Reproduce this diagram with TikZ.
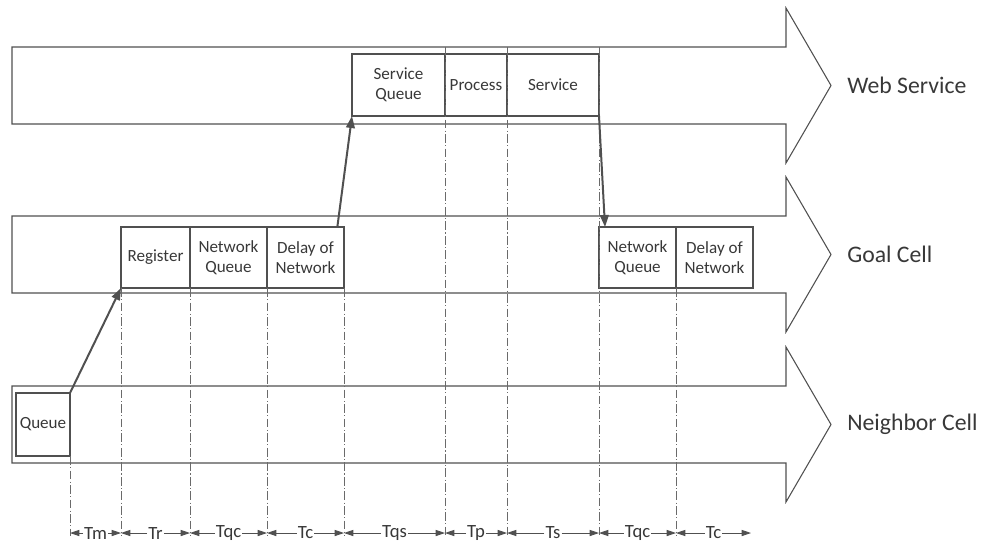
\documentclass[tikz,border=0pt]{standalone}
\usepackage{fontspec}
\setmainfont{Carlito}
\usepackage{tikz}
\usetikzlibrary{positioning, arrows.meta}
\definecolor{linea}{HTML}{505050}
\definecolor{testo}{HTML}{383838}

\begin{document}
\begin{tikzpicture}[
        x=0.75pt, y=-0.75pt,
        % frecce grandi delle tre righe
        corpo/.style={draw=linea, line width=0.8pt, line join=miter},
        % rettangoli interni
        box/.style={
            draw=linea,
            text=testo,
            align=center,
            line width=0.8pt,
            outer sep=0pt,
            inner sep=1pt,
            font=\fontsize{12.8}{15}\selectfont
        },
        etichetta/.style={text=testo, anchor=west, inner sep=0pt, font=\fontsize{17.8}{21}\selectfont},
        % linee tratto-punto verticali
        guida/.style={draw=linea!85, line width=0.6pt, dash pattern=on 6.5pt off 1.8pt on 0.8pt off 1.8pt},
        flusso/.style={draw=linea, line width=1.5pt, -{Triangle[length=9pt,width=6.5pt]}},
        tlab/.style={fill=white, text=testo, inner sep=0.6pt, font=\fontsize{14}{16}\selectfont},
        quota/.style={draw=linea, line width=0.7pt, -{Triangle[length=7pt,width=4.6pt]}},
    ]

    \useasboundingbox (0,0) rectangle (981,544);

    % frecce di sfondo
    \draw[corpo] (12,47) -- (786,47) -- (786,8) -- (831,85.5) -- (786,163) -- (786,124) -- (12,124) -- cycle;
    \draw[corpo] (12,216) -- (786,216) -- (786,177) -- (831,254.5) -- (786,332) -- (786,293) -- (12,293) -- cycle;
    \draw[corpo] (12,386) -- (786,386) -- (786,347) -- (831,424.5) -- (786,502) -- (786,463) -- (12,463) -- cycle;
    \coordinate (webtop) at (12,47);

    \node[etichetta] (weblab) at (847,85.5) {Web Service};
    \node[etichetta] (goallab) at (847,254.5) {Goal Cell};
    \node[etichetta] (nbrlab) at (847,424.5) {Neighbor Cell};

    % Web Service
    \node[box, minimum width=69.75pt, minimum height=46.5pt, anchor=north west] (sq) at (352,54) {Service\\ Queue};
    \node[box, minimum width=46.5pt, minimum height=46.5pt, right=0pt of sq] (proc) {Process};
    \node[box, minimum width=69pt, minimum height=46.5pt, right=0pt of proc] (svc) {Service};

    % Goal Cell
    \node[box, minimum width=51.75pt, minimum height=45.75pt, anchor=north west] (reg) at (121,227) {Register};
    \node[box, minimum width=57.75pt, minimum height=45.75pt, right=0pt of reg] (nq) {Network\\ Queue};
    \node[box, minimum width=57.75pt, minimum height=45.75pt, right=0pt of nq] (dn) {Delay of\\ Network};
    \node[box, minimum width=57.75pt, minimum height=45.75pt, anchor=north west] (nqb) at (599,227) {Network\\ Queue};
    \node[box, minimum width=57.75pt, minimum height=45.75pt, right=0pt of nqb] (dnb) {Delay of\\ Network};

    % Neighbor Cell
    \node[box, minimum width=40.5pt, minimum height=47.25pt, anchor=north west] (queue) at (16,393) {Queue};

    % punti in basso
    \coordinate (g1) at (70,533);
    \coordinate (g2) at (121,533);
    \coordinate (g3) at (190,533);
    \coordinate (g4) at (267,533);
    \coordinate (g5) at (344,533);
    \coordinate (g6) at (445,533);
    \coordinate (g7) at (507,533);
    \coordinate (g8) at (599,533);
    \coordinate (g9) at (676,533);
    \coordinate (g10) at (751,533);

    \draw[guida] (queue.south east) -- ([yshift=-2pt]queue.south east |- g1);
    \draw[guida] (reg.south west) -- ([yshift=-2pt]reg.south west |- g2);
    \draw[guida] (reg.south east) -- ([yshift=-2pt]reg.south east |- g3);
    \draw[guida] (nq.south east) -- ([yshift=-2pt]nq.south east |- g4);
    \draw[guida] (dn.south east) -- ([yshift=-2pt]dn.south east |- g5);
    \draw[guida] (sq.north east |- webtop) -- ([yshift=-2pt]sq.north east |- g6);
    \draw[guida] (proc.north east |- webtop) -- ([yshift=-2pt]proc.north east |- g7);
    \draw[guida] (svc.north east |- webtop) -- ([yshift=-2pt]svc.north east |- g8);
    \draw[guida] (nqb.south east) -- ([yshift=-2pt]nqb.south east |- g9);

    % frecce tra le righe
    \draw[flusso] (queue.north east) -- (reg.south west);
    \draw[flusso] ([xshift=-5pt]dn.north east) -- (sq.south west);
    \draw[flusso] (svc.south east) -- ([xshift=4.5pt]nqb.north west);

    % intervalli di tempo
    \node[tlab] (tm) at (95.5,533) {Tm};
    \draw[quota] (tm) -- (g1);
    \draw[quota] (tm) -- (g2);
    \node[tlab] (tr) at (155.5,533) {Tr};
    \draw[quota] (tr) -- (g2);
    \draw[quota] (tr) -- (g3);
    \node[tlab] (tqc) at (228.5,533) {Tqc};
    \draw[quota] (tqc) -- (g3);
    \draw[quota] (tqc) -- (g4);
    \node[tlab] (tc) at (305.5,533) {Tc};
    \draw[quota] (tc) -- (g4);
    \draw[quota] (tc) -- (g5);
    \node[tlab] (tqs) at (394.5,533) {Tqs};
    \draw[quota] (tqs) -- (g5);
    \draw[quota] (tqs) -- (g6);
    \node[tlab] (tp) at (476,533) {Tp};
    \draw[quota] (tp) -- (g6);
    \draw[quota] (tp) -- (g7);
    \node[tlab] (ts) at (553,533) {Ts};
    \draw[quota] (ts) -- (g7);
    \draw[quota] (ts) -- (g8);
    \node[tlab] (tqcb) at (637.5,533) {Tqc};
    \draw[quota] (tqcb) -- (g8);
    \draw[quota] (tqcb) -- (g9);
    \node[tlab] (tcb) at (713.5,533) {Tc};
    \draw[quota] (tcb) -- (g9);
    \draw[quota] (tcb) -- (g10);

\end{tikzpicture}
\end{document}
